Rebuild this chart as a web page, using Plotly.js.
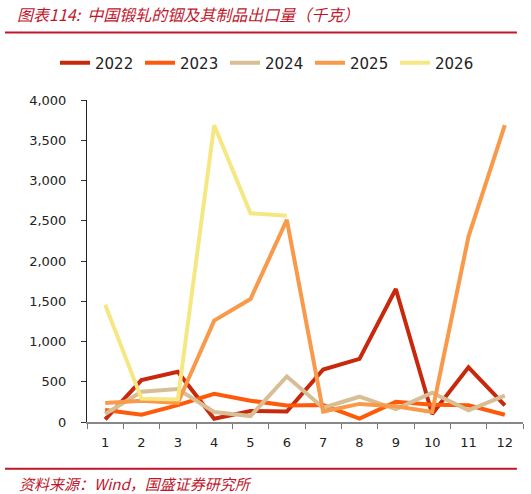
<!DOCTYPE html>
<html>
<head>
<meta charset="utf-8">
<script src="https://cdn.plot.ly/plotly-3.0.1.min.js"></script>
<style>html,body{margin:0;padding:0;background:#fff;}#chart{width:531px;height:494px;}</style>
</head>
<body>
<div id="chart"></div>
<script>
var months = ["1","2","3","4","5","6","7","8","9","10","11","12"];
var seriesNames = ["2022","2023","2024","2025","2026"];
var v2022 = [33, 520, 625, 40, 136, 130, 652, 785, 1652, 100, 680, 207];
var v2023 = [149, 90, 210, 351, 265, 205, 210, 42, 250, 215, 207, 90];
var v2024 = [100, 376, 410, 124, 74, 566, 178, 314, 160, 364, 145, 328];
var v2025 = [236, 265, 236, 1259, 1528, 2510, 130, 225, 195, 124, 2303, 3687];
var v2026 = [1457, 290, 281, 3687, 2593, 2563];
var colors = ["#C8290C", "#FF5A0A", "#D8BE95", "#F9994A", "#F5E882"];
var allValues = [v2022, v2023, v2024, v2025, v2026];

var traces = allValues.map(function(vals, i){
  return {
    type: "scatter", mode: "lines",
    x: months.slice(0, vals.length), y: vals,
    name: seriesNames[i],
    line: {color: colors[i], width: 4}
  };
});

var red = "#C0162C";
var axisFont = {family: "DejaVu Sans, Verdana, sans-serif", size: 13, color: "#222"};
var layout = {
  width: 531, height: 494,
  margin: {l: 87, r: 8, t: 100, b: 72},
  paper_bgcolor: "#fff", plot_bgcolor: "#fff",
  font: axisFont,
  showlegend: true,
  legend: {orientation: "h", xref: "container", yref: "container",
           x: 55/531, xanchor: "left", y: 1 - 63/494, yanchor: "middle",
           bgcolor: "rgba(0,0,0,0)",
           font: {family: "DejaVu Sans, Verdana, sans-serif", size: 15, color: "#222"},
           entrywidth: 40, entrywidthmode: "pixels", itemwidth: 30, traceorder: "normal"},
  xaxis: {type: "category", categoryarray: months, range: [-0.5, 11.5],
          tickson: "boundaries", ticks: "outside", ticklen: 5, tickcolor: "#777",
          showline: true, linecolor: "#888", linewidth: 1.5, showgrid: false, zeroline: false,
          ticklabelstandoff: 8, tickfont: axisFont},
  yaxis: {range: [0, 4000], dtick: 500, tickformat: ",d", ticks: "outside", ticklen: 5,
          tickcolor: "#333", showline: true, linecolor: "#222", linewidth: 1,
          showgrid: false, zeroline: false, fixedrange: true,
          ticklabelstandoff: 12, tickfont: axisFont},
  title: {text: "<i>图表114:  中国锻轧的铟及其制品出口量（千克）</i>",
          x: 17/531, xanchor: "left", xref: "container", y: 1 - 15/494, yref: "container", yanchor: "middle",
          font: {family: "Noto Sans CJK SC, sans-serif", size: 16, color: red}},
  shapes: [
    {type: "line", xref: "paper", yref: "paper", x0: -0.188, x1: 0.986, y0: 1.21, y1: 1.21, line: {color: red, width: 2}},
    {type: "line", xref: "paper", yref: "paper", x0: -0.188, x1: 0.986, y0: -0.145, y1: -0.145, line: {color: red, width: 2}}
  ],
  annotations: [
    {text: "<i>资料来源：Wind，国盛证券研究所</i>", xref: "paper", yref: "paper",
     x: -0.161, y: -0.19, xanchor: "left", yanchor: "middle", showarrow: false,
     font: {family: "Noto Sans CJK SC, sans-serif", size: 15, color: red}}
  ]
};
Plotly.newPlot("chart", traces, layout, {displayModeBar: false, staticPlot: true});
</script>
</body>
</html>
